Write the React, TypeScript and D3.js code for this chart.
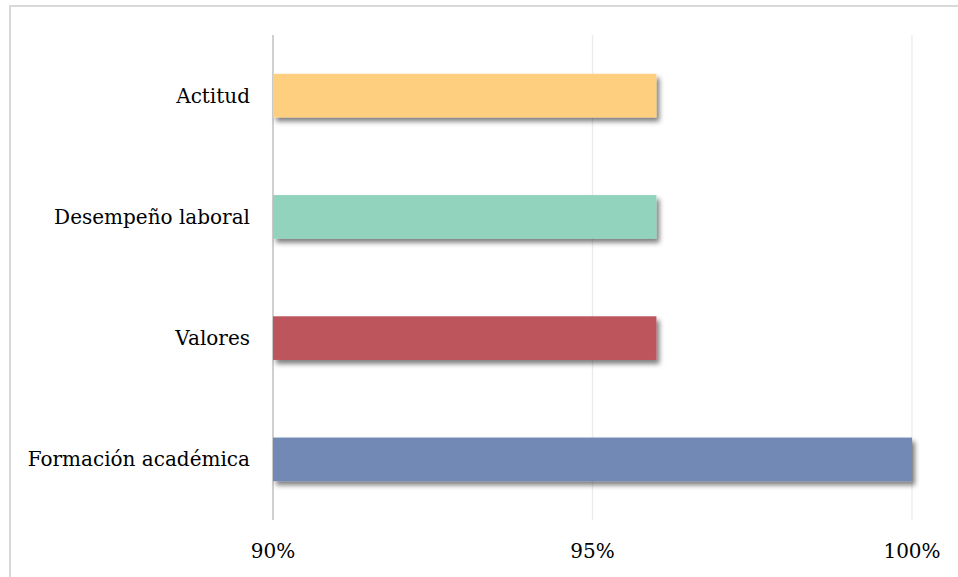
import React from "react";
import * as d3 from "d3";

const categories = ["Actitud", "Desempeño laboral", "Valores", "Formación académica"];
const values = [0.96, 0.96, 0.96, 1.0];
const colors = ["#FFCF80", "#92D3BD", "#BC545C", "#7189B4"];
const ticks = [0.9, 0.95, 1.0];

export default function App() {
  const W = 958, H = 577;
  const left = 273, right = 912, top = 35, bottom = 520;
  const x = d3.scaleLinear().domain([0.9, 1.0]).range([left, right]);
  const y = d3.scaleBand().domain(categories).range([top, bottom]).paddingInner(0.64).paddingOuter(0.32);
  const fmt = d3.format(".0%");
  const font = "'DejaVu Serif', serif";
  return (
    <svg width={W} height={H} style={{ position: "absolute", left: 0, top: 0, background: "#fff" }}>
      <defs>
        <filter id="sh" x="-10%" y="-30%" width="130%" height="180%">
          <feDropShadow dx="3" dy="4" stdDeviation="2.5" floodColor="#000" floodOpacity="0.5" />
        </filter>
      </defs>
      <rect x={10} y={6} width={960} height={590} fill="#fff" stroke="#d9d9d9" strokeWidth={2} />
      {ticks.map((t) => (
        <line key={t} x1={x(t)} x2={x(t)} y1={top} y2={bottom} stroke={t === 0.9 ? "#d0d0d0" : "#ececec"} strokeWidth={t === 0.9 ? 2 : 1.3} />
      ))}
      {categories.map((c, i) => (
        <g key={c}>
          <rect x={x(0.9)} y={y(c)} width={x(values[i]) - x(0.9)} height={y.bandwidth()} fill={colors[i]} filter="url(#sh)" />
          <text x={250} y={(y(c) as number) + y.bandwidth() / 2} dy="0.35em" textAnchor="end" fontFamily={font} fontSize={20} fill="#000">{c}</text>
        </g>
      ))}
      {ticks.map((t) => (
        <text key={t} x={x(t)} y={551} dy="0.35em" textAnchor="middle" fontFamily={font} fontSize={20} fill="#000">{fmt(t)}</text>
      ))}
    </svg>
  );
}
